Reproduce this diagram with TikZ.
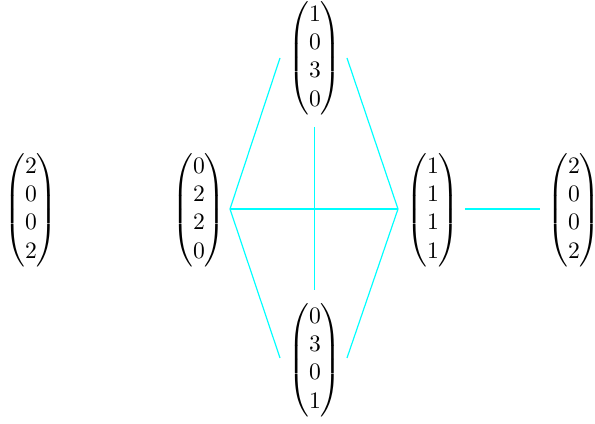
\documentclass[tikz,border=0pt]{standalone}
\usepackage{amsmath}
\definecolor{cy}{RGB}{0,255,255}
\tikzset{
  vec/.style={inner sep=0pt, anchor=center},
  link/.style={cy, line width=0.5pt}
}
\begin{document}
\begin{tikzpicture}[x=0.424pt,y=-0.424pt]
\useasboundingbox (0,0) rectangle (595,424);
\node[vec] (a) at (31,210) {$\begin{pmatrix}2\\0\\0\\2\end{pmatrix}$};
\node[vec] (b) at (199,210) {$\begin{pmatrix}0\\2\\2\\0\end{pmatrix}$};
\node[vec] (c) at (315,58) {$\begin{pmatrix}1\\0\\3\\0\end{pmatrix}$};
\node[vec] (d) at (315,360) {$\begin{pmatrix}0\\3\\0\\1\end{pmatrix}$};
\node[vec] (e) at (433,210) {$\begin{pmatrix}1\\1\\1\\1\end{pmatrix}$};
\node[vec] (f) at (574,210) {$\begin{pmatrix}2\\0\\0\\2\end{pmatrix}$};
\coordinate (bR) at (230,209);
\coordinate (eL) at (398,209);
\coordinate (cL) at (280,58);
\coordinate (cR) at (347,58);
\coordinate (dL) at (280,358);
\coordinate (dR) at (347,358);
\coordinate (cB) at (314.5,127);
\coordinate (dT) at (314.5,290);
\coordinate (eR) at (465,209);
\coordinate (fL) at (540,209);
\draw[link] (cL) -- (bR) -- (dL);
\draw[link] (bR) -- (eL);
\draw[link] (cR) -- (eL) -- (dR);
\draw[link] (cB) -- (dT);
\draw[link] (eR) -- (fL);
\end{tikzpicture}
\end{document}
